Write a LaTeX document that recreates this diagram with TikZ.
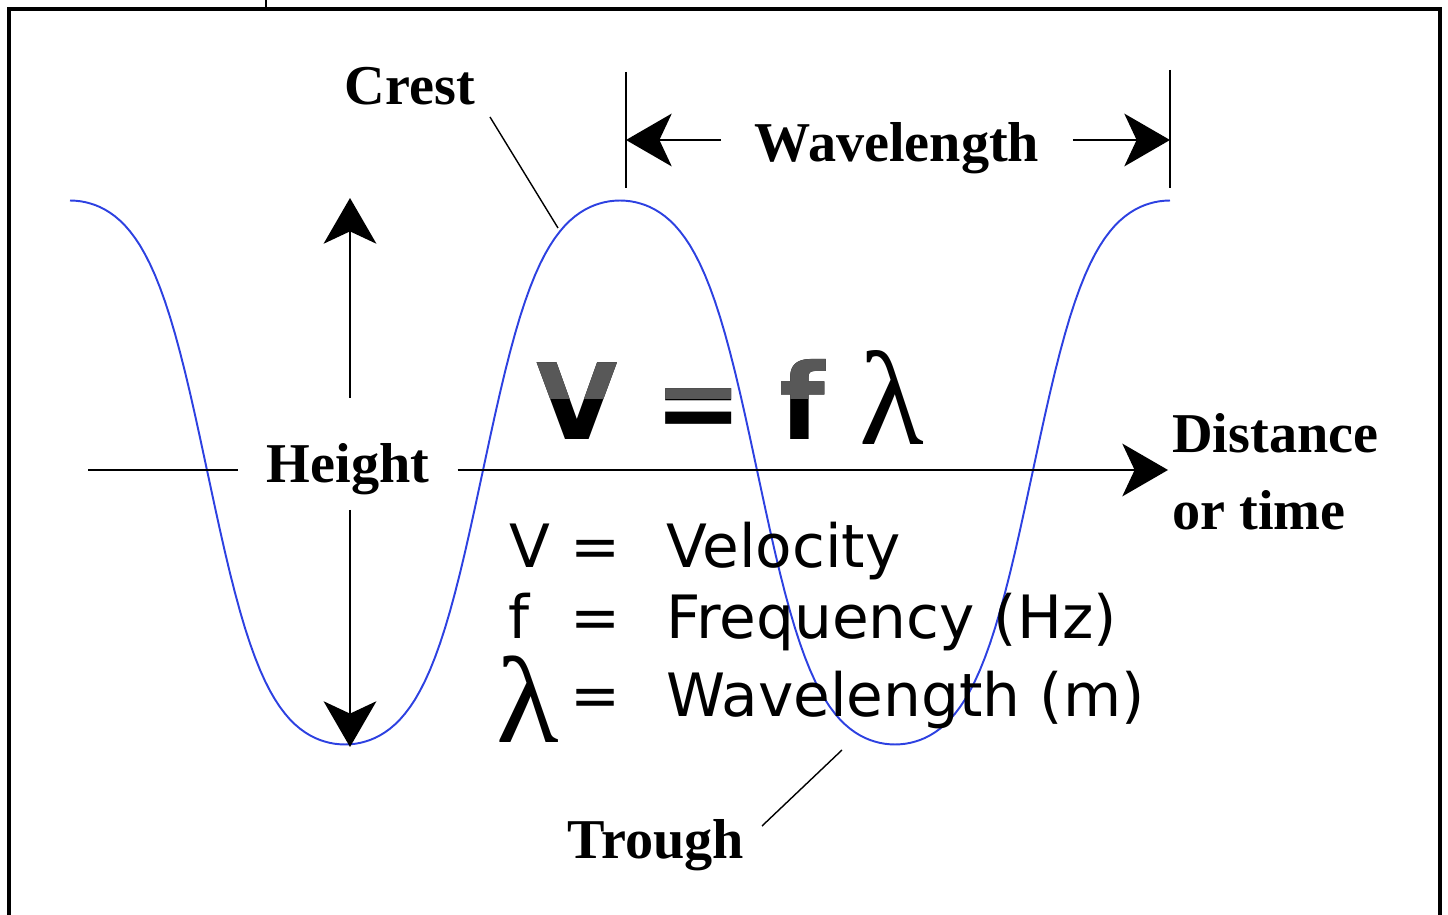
\documentclass[tikz,border=0pt]{standalone}
\usepackage{fontspec}
\setmainfont{Liberation Serif}
\newfontfamily\legendfont{DejaVu Sans}
\usetikzlibrary{arrows.meta}

\definecolor{wavecol}{RGB}{45,65,225}
\definecolor{vgray}{RGB}{88,88,88}

\tikzset{
  axis/.style={line width=1.2pt},
  leader/.style={line width=0.8pt},
  bigtip/.style={-{Stealth[length=26pt,width=30pt,inset=7pt]}},
  wavelabel/.style={font=\bfseries\fontsize{32}{44}\selectfont, inner sep=0pt},
  legend/.style={font=\legendfont\fontsize{34}{40}\selectfont, inner sep=0pt, anchor=base},
  formula/.style={font=\legendfont\bfseries\fontsize{60}{66}\selectfont, inner sep=0pt, anchor=base west},
}

\begin{document}
\begin{tikzpicture}[x=0.02cm, y=-0.02cm]
    \useasboundingbox (0,0) rectangle (1448,915);

    % Cornice
    \draw[line width=2.4pt] (9,915) -- (9,9) -- (1440,9) -- (1440,915);
    \draw[line width=0.6pt] (266,0) -- (266,7);

    % Onda
    \draw[wavecol, line width=1.1pt] plot[domain=70:1170, samples=221]
        (\x, {472.5 - 272*tanh(1.3*cos((\x-70)/550*360))/tanh(1.3)});

    % Asse orizzontale
    \node[wavelabel, anchor=base, inner xsep=16pt] (height) at (348,483) {Height};
    \coordinate (axL) at (88,470);
    \coordinate (axR) at (1168,470);
    \draw[axis] (axL) -- (axL -| height.west);
    \draw[axis, bigtip] (axR -| height.east) -- (axR);

    % Altezza
    \coordinate (hUp) at (350,398);
    \coordinate (hTop) at (350,198);
    \coordinate (hDn) at (350,510);
    \coordinate (hBot) at (350,747);
    \draw[axis, bigtip] (hUp) -- (hTop);
    \draw[axis, bigtip] (hDn) -- (hBot);

    % Lunghezza d'onda
    \coordinate (barL) at (626,140);
    \coordinate (barR) at (1170,140);
    \draw[axis] (626,72) -- (626,188);
    \draw[axis] (1170,70) -- (1170,188);
    \node[wavelabel, anchor=base, inner xsep=19pt] (wlen) at (897,162) {Wavelength};
    \draw[axis, bigtip] (barL -| wlen.west) -- (barL);
    \draw[axis, bigtip] (barR -| wlen.east) -- (barR);

    % Cresta e ventre
    \node[wavelabel, anchor=base] (crest) at (410,105) {Crest};
    \coordinate (crestFrom) at (490,117);
    \coordinate (crestPt) at (558,228);
    \draw[leader] (crestFrom) -- (crestPt);
    \node[wavelabel, anchor=base] (trough) at (656,858) {Trough};
    \coordinate (troughFrom) at (762,826);
    \coordinate (troughPt) at (842,750);
    \draw[leader] (troughFrom) -- (troughPt);

    % Distanza
    \node[wavelabel, anchor=north west, align=left] (dist) at (1172,413) {Distance\\or time};

    % Formula
    \node[formula] (vf) at (536,440) {V = f};
    \begin{scope}
        \clip (500,300) rectangle (860,399);
        \node[formula, text=vgray] at (536,440) {V = f};
    \end{scope}
    \node[font=\fontsize{76}{80}\selectfont, anchor=base, inner sep=0pt] (lam) at (892,445) {λ};

    % Legenda
    \node[legend] (symV) at (530,568) {V};
    \node[legend] (eqV) at (596,568) {=};
    \node[legend, anchor=base west] (txtV) at (666,568) {Velocity};
    \node[legend] (symF) at (519,639) {f};
    \node[legend] (eqF) at (596,639) {=};
    \node[legend, anchor=base west] (txtF) at (666,639) {Frequency (Hz)};
    \node[font=\fontsize{70}{74}\selectfont, text height=46pt, anchor=base, inner sep=0pt] (symL) at (528,742) {\scalebox{1.05}[1]{λ}};
    \node[legend] (eqL) at (596,716) {=};
    \node[legend, anchor=base west] (txtL) at (666,716) {Wavelength (m)};
\end{tikzpicture}
\end{document}
